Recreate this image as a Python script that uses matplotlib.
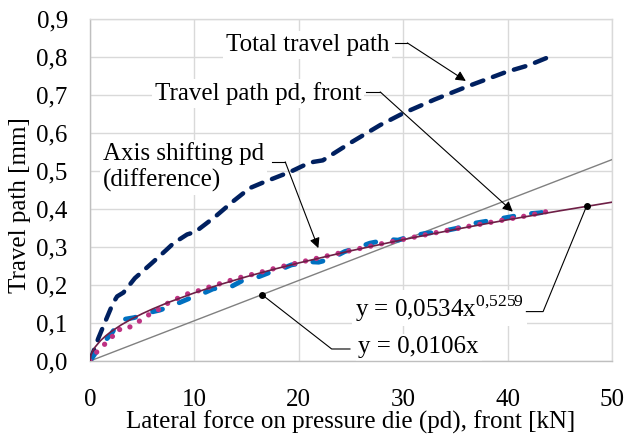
import matplotlib
matplotlib.use('Agg')
import matplotlib.pyplot as plt

plt.rcParams['font.family'] = ['Liberation Serif', 'DejaVu Serif']
plt.rcParams['mathtext.fontset'] = 'custom'
plt.rcParams['mathtext.rm'] = 'Liberation Serif'

# ---- data ----
total_x = [0, 0.8, 1.45, 2.2, 2.6, 3.2, 4.3, 5.9, 7.3, 8.0, 9.3, 10.1, 12.0, 13.7,
           15.3, 16.6, 19.2, 20.5, 21.4, 22.3, 25.0, 27.8, 30.0, 33.0, 36.1, 39.9, 42.0, 44.4]
total_y = [0, 0.06, 0.103, 0.152, 0.17, 0.18, 0.218, 0.257, 0.292, 0.31, 0.333, 0.34, 0.38, 0.42,
           0.455, 0.47, 0.498, 0.515, 0.524, 0.528, 0.575, 0.621, 0.652, 0.688, 0.722, 0.761, 0.778, 0.805]

front_x = [0, 0.5, 0.96, 1.5, 2.08, 2.6, 2.9, 4.2, 5.0, 5.6, 6.7, 8.0, 9.9, 11.0, 11.8, 13.4,
           14.7, 16.0, 17.4, 18.5, 19.3, 21.1, 21.9, 23.0, 24.4, 25.5, 26.8, 28.6, 29.5, 30.8,
           32.2, 33.5, 35.1, 36.7, 37.8, 39.0, 40.4, 41.8, 43.1, 44.4]
front_y = [0, 0.02, 0.038, 0.055, 0.073, 0.095, 0.108, 0.114, 0.12, 0.127, 0.134, 0.147, 0.169,
           0.18, 0.19, 0.194, 0.213, 0.22, 0.235, 0.244, 0.253, 0.261, 0.26, 0.268, 0.288, 0.297,
           0.31, 0.32, 0.318, 0.329, 0.336, 0.34, 0.349, 0.362, 0.367, 0.373, 0.38, 0.387, 0.39, 0.397]

diff_x = [0, 0.16, 0.8, 1.44, 2.08, 2.62, 3.19, 3.99, 4.79, 5.59, 6.39, 7.18, 7.89, 8.62, 9.26,
          10.06, 10.86, 11.66, 13.0, 14.0, 16.0, 18.0, 20.0, 22.0, 25.0, 28.0, 30.0, 33.0, 36.0,
          40.0, 42.0, 44.4]
diff_y = [0, 0.007, 0.029, 0.045, 0.062, 0.084, 0.081, 0.092, 0.106, 0.121, 0.132, 0.147, 0.160,
          0.167, 0.176, 0.182, 0.189, 0.197, 0.208, 0.217, 0.231, 0.246, 0.259, 0.272, 0.291,
          0.309, 0.320, 0.337, 0.353, 0.373, 0.383, 0.397]

fit_x = [0, 0.1, 0.25, 0.5, 1, 1.5, 2, 3, 4, 5, 6, 7.5, 10, 12.5, 15, 17.5, 20, 25, 30, 35, 40, 45, 50]
fit_y = [0, 0.0159, 0.0258, 0.0371, 0.0534, 0.0661, 0.0769, 0.0952, 0.1107, 0.1245, 0.137,
         0.1541, 0.1793, 0.2016, 0.2219, 0.2406, 0.2581, 0.2902, 0.3194, 0.3464, 0.3716, 0.3953, 0.4179]

lin_x = [0, 50]
lin_y = [0, 0.53]

x_ticks = [0, 10, 20, 30, 40, 50]
x_ticklabels = ['0', '10', '20', '30', '40', '50']
y_ticks = [0, 0.1, 0.2, 0.3, 0.4, 0.5, 0.6, 0.7, 0.8, 0.9]
y_ticklabels = ['0,0', '0,1', '0,2', '0,3', '0,4', '0,5', '0,6', '0,7', '0,8', '0,9']

NAVY = '#002060'
BLUE = '#0070C0'
PINK = '#BE3283'
MAROON = '#6E1F46'
GRAY = '#808080'

fs = 18

fig = plt.figure(figsize=(6.25, 4.34), dpi=100)
ax = fig.add_axes([90 / 625, 1 - 361 / 434, 522 / 625, 342 / 434])
ax.set_xlim(0, 50)
ax.set_ylim(0, 0.9)
ax.set_xticks(x_ticks)
ax.set_xticklabels(x_ticklabels)
ax.set_yticks(y_ticks)
ax.set_yticklabels(y_ticklabels)
ax.tick_params(length=0, labelsize=fs)
ax.tick_params(axis='x', pad=20)
ax.tick_params(axis='y', pad=16)
ax.grid(color='#D9D9D9', lw=1)
ax.set_axisbelow(True)
for s in ax.spines.values():
    s.set_color('#D9D9D9')
    s.set_linewidth(1)
ax.spines['left'].set_color('#BFBFBF')
ax.spines['bottom'].set_color('#BFBFBF')

ax.set_xlabel('Lateral force on pressure die (pd), front [kN]', fontsize=fs, labelpad=0)
ax.set_ylabel('Travel path [mm]', fontsize=fs)
ax.yaxis.set_label_coords(-0.113, 0.456)

# series
ax.plot(lin_x, lin_y, color=GRAY, lw=1.0, zorder=3)
ax.plot(total_x, total_y, color=NAVY, lw=3.2, ls=(0, (2.7, 2.3)), dash_capstyle='round', zorder=4)
ax.plot(front_x, front_y, color=BLUE, lw=3.5, ls=(0, (2.1, 3.7)), dash_capstyle='round', zorder=4)
ax.plot(diff_x, diff_y, color=PINK, lw=3.8, ls=(0, (0.01, 2.1)), dash_capstyle='round', zorder=5)
ax.plot(fit_x, fit_y, color=MAROON, lw=1.2, zorder=6)

box = dict(facecolor='white', edgecolor='none', pad=2)
tz = 2.5

ax.text(28.7, 0.816, 'Total travel path', ha='right', va='baseline', fontsize=fs, bbox=box, zorder=tz)
ax.text(26.0, 0.687, 'Travel path pd, front', ha='right', va='baseline', fontsize=fs, bbox=box, zorder=tz)
ax.text(1.25, 0.575, 'Axis shifting pd\n(difference)', ha='left', va='top', fontsize=fs,
        linespacing=1.2, bbox=box, zorder=tz)
ax.text(25.4, 0.117, 'y = 0,0534x$^{\\mathregular{0{,}5259}}$', ha='left', va='baseline', fontsize=fs,
        bbox=box, zorder=tz)
ax.text(25.7, 0.020, 'y = 0,0106x', ha='left', va='baseline', fontsize=fs, bbox=box, zorder=tz)

# leader lines
lk = dict(color='black', lw=0.8, zorder=7, clip_on=False)
ap = dict(arrowstyle='-|>', color='black', lw=0.8, mutation_scale=15, shrinkA=0, shrinkB=0)

ax.plot([29.2, 30.4], [0.837, 0.837], **lk)
ax.annotate('', xy=(36.0, 0.737), xytext=(30.4, 0.837), arrowprops=ap, zorder=7)

ax.plot([26.4, 27.8], [0.708, 0.708], **lk)
ax.annotate('', xy=(40.5, 0.393), xytext=(27.8, 0.708), arrowprops=ap, zorder=7)

ax.plot([17.4, 18.7], [0.524, 0.524], **lk)
ax.annotate('', xy=(21.87, 0.297), xytext=(18.7, 0.524), arrowprops=ap, zorder=7)

ax.plot([41.8, 43.4, 47.57], [0.130, 0.130, 0.408], **lk)
ax.plot([47.57], [0.408], 'o', color='black', ms=4, zorder=7)

ax.plot([24.9, 23.15, 16.5], [0.0316, 0.0316, 0.174], **lk)
ax.plot([16.5], [0.174], 'o', color='black', ms=4, zorder=7)

fig.savefig('out.png', dpi=100)
